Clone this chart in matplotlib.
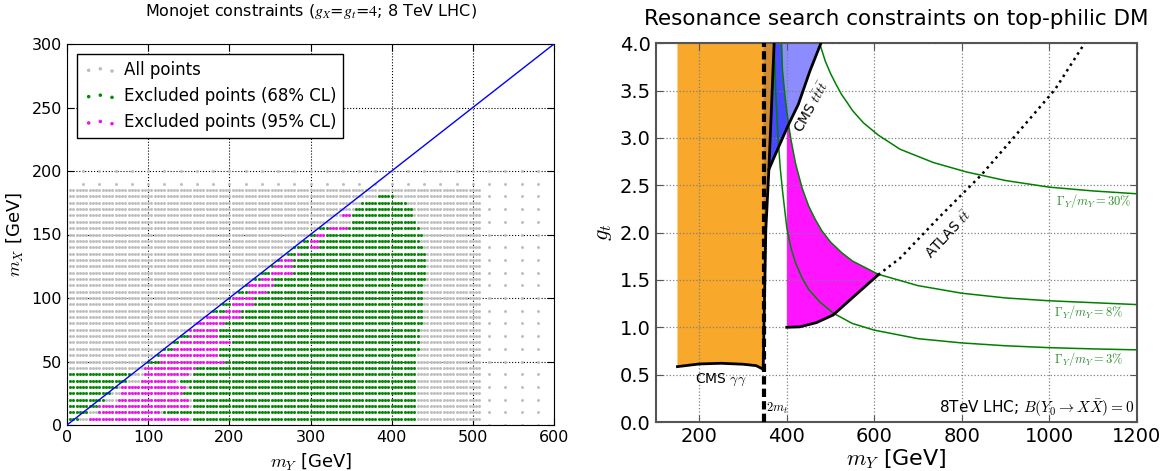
import numpy as np
import matplotlib
matplotlib.use("Agg")
import matplotlib.pyplot as plt

plt.rcParams['mathtext.fontset'] = 'cm'
plt.rcParams['font.family'] = 'DejaVu Sans'

# ---------------- left panel: monojet scan ----------------
# dense scan lattice
scan_my = np.arange(4, 512, 4)
row_mx = list(range(5, 190, 5))
# per row: green to the left of the diagonal (upper m_Y), magenta span, green span
left_green = [12, 24, 36, 47, 55, 62, 72, 78, 0, 0, 0, 0, 0, 0, 0, 0, 0, 0, 0, 0,
              0, 0, 0, 0, 0, 0, 0, 0, 0, 0, 0, 0, 0, 0, 0, 0, 0]
mag_lo = [28, 39, 39, 63, 65, 65, 90, 94, 94, 115, 115, 130, 139, 152, 152, 160, 172, 193, 203, 203,
          221, 221, 238, 250, 254, 262, 283, 299, 299, 307, 323, 0, 339, 0, 0, 0, 0]
mag_hi = [151, 115, 151, 151, 140, 147, 135, 150, 156, 193, 184, 184, 201, 184, 184, 193, 213, 215, 229, 229,
          244, 254, 254, 279, 279, 279, 287, 311, 309, 316, 344, 0, 351, 0, 0, 0, 0]
green_lo = [155, 120, 155, 155, 144, 151, 139, 154, 160, 100, 110, 120, 130, 140, 150, 160, 170, 180, 190, 200,
            210, 220, 230, 240, 250, 260, 270, 280, 290, 300, 310, 349, 340, 355, 363, 383, 0]
green_hi = [430, 430, 430, 430, 430, 430, 430, 430, 430, 430, 430, 432, 432, 435, 435, 437, 437, 437, 437, 437,
            437, 437, 440, 440, 440, 440, 441, 437, 433, 437, 433, 431, 426, 426, 416, 402, 0]
# sparse part of the scan
sparse_rows_mx = [190, 200]
sparse_rows_my = list(range(20, 600, 20))
sparse_cols_my = [520, 540, 560, 580]
sparse_cols_mx = list(range(0, 190, 10))

# ---------------- right panel: resonance searches ----------------
gg_m = [150, 200, 250, 300, 330, 346]
gg_g = [0.585, 0.613, 0.62, 0.61, 0.595, 0.557]
edge_m = [346, 352, 359, 371]
edge_g = [0.557, 2.03, 2.667, 4.0]
tt4_m = [359, 380.5, 403.4, 426.3, 452.9, 478]
tt4_g = [2.667, 2.896, 3.136, 3.354, 3.707, 4.0]
magb_m = [400, 430, 468, 506, 552, 609]
magb_g = [1.0, 1.005, 1.05, 1.13, 1.32, 1.554]
atlas_m = [609, 659, 750, 845, 918, 1013, 1081]
atlas_g = [1.554, 1.73, 2.17, 2.61, 3.0, 3.51, 4.0]
w30_m = [475, 488, 500, 512, 525, 537, 550, 575, 609, 659, 735, 811, 900, 1000, 1100, 1200]
w30_g = [4.0, 3.81, 3.68, 3.57, 3.46, 3.38, 3.29, 3.16, 3.03, 2.88, 2.74, 2.64, 2.55, 2.48, 2.44, 2.41]
w8_m = [388, 390, 395, 400, 405, 410, 420, 435, 450, 465, 480, 500, 525, 550, 609, 700, 800, 900, 1000, 1100, 1200]
w8_g = [4.0, 3.72, 3.48, 3.28, 3.11, 2.97, 2.73, 2.47, 2.28, 2.14, 2.02, 1.90, 1.79, 1.70, 1.56, 1.44, 1.36, 1.31, 1.28, 1.26, 1.24]
w3_m = [371, 375, 380, 385, 390, 400, 410, 420, 435, 450, 475, 506, 550, 600, 700, 800, 900, 1000, 1100, 1200]
w3_g = [4.0, 3.45, 3.0, 2.68, 2.45, 2.05, 1.83, 1.68, 1.52, 1.40, 1.27, 1.15, 1.04, 0.97, 0.88, 0.835, 0.805, 0.785, 0.772, 0.762]
two_mt = 347

fig = plt.figure(figsize=(11.73, 4.71), dpi=100)
ax1 = fig.add_axes([67 / 1173, 46 / 471, 487 / 1173, 381 / 471])
ax2 = fig.add_axes([655.6 / 1173, 49 / 471, 481.1 / 1173, 378.8 / 471])

# build point classes
ex, ey, mx_, my_, ax_, ay_ = [], [], [], [], [], []
for i, m in enumerate(row_mx):
    for y in scan_my:
        ax_.append(y); ay_.append(m)
        if mag_lo[i] <= y <= mag_hi[i] and mag_hi[i] > 0:
            mx_.append(y); my_.append(m)
        elif (green_lo[i] <= y <= green_hi[i] and green_hi[i] > 0) or y <= left_green[i]:
            ex.append(y); ey.append(m)
for m in sparse_rows_mx:
    for y in sparse_rows_my:
        ax_.append(y); ay_.append(m)
for y in sparse_cols_my:
    for m in sparse_cols_mx:
        ax_.append(y); ay_.append(m)

ax1.scatter(ax_, ay_, s=4.5, c='#bdbdbd', linewidths=0, label='All points', zorder=2)
ax1.scatter(ex, ey, s=4.5, c='#008a00', linewidths=0, label='Excluded points (68% CL)', zorder=3)
ax1.scatter(mx_, my_, s=4.5, c='#f010f0', linewidths=0, label='Excluded points (95% CL)', zorder=4)
ax1.plot([0, 600], [0, 300], color='b', lw=1, zorder=5)
ax1.set_xlim(0, 600)
ax1.set_ylim(0, 300)
ax1.set_xticks(range(0, 601, 100))
ax1.set_yticks(range(0, 301, 50))
ax1.grid(True, linestyle=':', color='k', lw=0.8)
ax1.tick_params(direction='in', top=True, right=True, labelsize=11.5, length=5)
ax1.set_xlabel('$m_Y$ [GeV]', fontsize=13, labelpad=5)
ax1.set_ylabel('$m_X$ [GeV]', fontsize=13, labelpad=4)
ax1.set_title('Monojet constraints ($g_X$=$g_t$=$4$; 8 TeV LHC)', fontsize=11.5, pad=20)
ax1.title.set_math_fontfamily('stix')
leg = ax1.legend(loc='upper left', scatterpoints=3, markerscale=1.2, fontsize=12, fancybox=False,
                 edgecolor='k', framealpha=1, borderaxespad=0.6, handletextpad=0.4,
                 labelspacing=0.5)
leg.get_frame().set_linewidth(1.0)

# right panel
ax2.fill(gg_m + edge_m[1:] + [150], gg_g + edge_g[1:] + [4.0], color='#f8a82a', lw=0, zorder=1)
ax2.fill([two_mt] + edge_m + [two_mt], [edge_g[0]] + edge_g + [4.0], color='#cf8a32', lw=0, zorder=1)
ax2.fill(tt4_m + edge_m[:1:-1], tt4_g + edge_g[:1:-1], color='#8c8cff', lw=0, zorder=1)
# narrow-width part of the four-top region: left of the 8% curve
nw_m = [m for m in w8_m if m <= 403]
nw_g = [g for m, g in zip(w8_m, w8_g) if m <= 403]
low_m = [m for m in tt4_m if m <= 403.4]
low_g = [g for m, g in zip(tt4_m, tt4_g) if m <= 403.4]
ax2.fill(edge_m[2:] + nw_m + low_m[::-1], edge_g[2:] + nw_g + low_g[::-1], color='#4848ff', lw=0, zorder=1)
top_m = [m for m in w8_m if 405 <= m <= 609]
top_g = [g for m, g in zip(w8_m, w8_g) if 405 <= m <= 609]
ax2.fill([400, 400, 403.4] + top_m + magb_m[::-1], [1.0, 3.136, 3.14] + top_g + magb_g[::-1],
         color='#ff14ff', lw=0, zorder=1)

for mm, gg in ((w30_m, w30_g), (w8_m, w8_g), (w3_m, w3_g)):
    ax2.plot(mm, gg, color='#007f00', lw=1.1, zorder=3)
ax2.plot(gg_m, gg_g, 'k-', lw=2, zorder=4)
ax2.plot(edge_m, edge_g, 'k-', lw=2, zorder=4)
ax2.plot(tt4_m, tt4_g, 'k-', lw=2, zorder=4)
ax2.plot(magb_m, magb_g, 'k-', lw=2, zorder=4)
ax2.plot(atlas_m, atlas_g, 'k:', lw=1.8, zorder=4)
ax2.plot([two_mt, two_mt], [0, 4], 'k--', lw=3, dashes=(2, 1), zorder=4)

ax2.text(250, 0.44, r'CMS $\gamma\gamma$', fontsize=10, ha='center', va='center')
ax2.text(352, 0.06, r'$2m_t$', fontsize=9, ha='left', va='bottom')
ax2.text(458, 3.33, r'CMS $t\bar{t}t\bar{t}$', fontsize=10, rotation=61, ha='center', va='center')
ax2.text(770, 1.98, r'ATLAS $t\bar{t}$', fontsize=10, rotation=47, ha='center', va='center')
ax2.text(1015, 2.33, r'$\Gamma_Y/m_Y=30\%$', fontsize=9, color='#2f8f2f', ha='left', va='center')
ax2.text(1010, 1.16, r'$\Gamma_Y/m_Y=8\%$', fontsize=9, color='#2f8f2f', ha='left', va='center')
ax2.text(1010, 0.66, r'$\Gamma_Y/m_Y=3\%$', fontsize=9, color='#2f8f2f', ha='left', va='center')
ax2.text(1195, 0.15, r'8TeV LHC; $B(Y_0\to X\bar{X})=0$', fontsize=11, ha='right', va='center')

ax2.set_xlim(100, 1200)
ax2.set_ylim(0, 4)
ax2.set_xticks(range(200, 1201, 200))
ax2.set_yticks(np.arange(0, 4.01, 0.5))
ax2.yaxis.set_major_formatter(matplotlib.ticker.FormatStrFormatter('%.1f'))
ax2.grid(True, linestyle=':', color='#808080', lw=0.9)
ax2.tick_params(direction='in', top=True, right=True, labelsize=14, length=5, color='#555555')
for s in ax2.spines.values():
    s.set_color('#555555')
    s.set_linewidth(1.5)
ax2.set_xlabel('$m_Y$ [GeV]', fontsize=16, labelpad=1)
ax2.set_ylabel('$g_t$', fontsize=16, labelpad=4)
ax2.set_title('Resonance search constraints on top-philic DM', fontsize=15.5, pad=13)

fig.savefig('out.png', dpi=100)
